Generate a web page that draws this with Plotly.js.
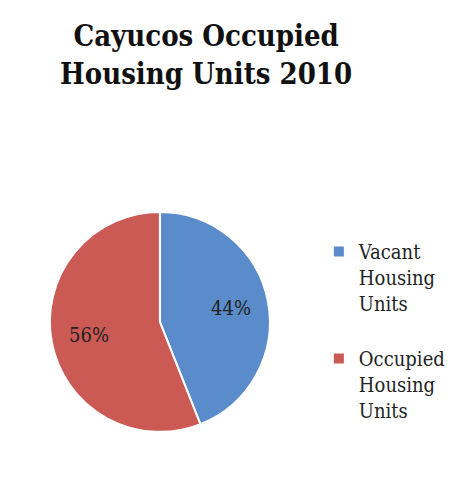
<!DOCTYPE html>
<html>
<head>
<meta charset="utf-8">
<script src="https://cdn.plot.ly/plotly-3.0.1.min.js"></script>
<style>html,body{margin:0;padding:0;background:#fff;}#chart{width:451px;height:501px;}</style>
</head>
<body>
<div id="chart"></div>
<script>
const categories = ["Vacant Housing Units", "Occupied Housing Units"];
const values = [44, 56];
const colors = ["#5a8bca", "#cb5954"];
const chartTitle = "Cayucos Occupied<br>Housing Units 2010";

const W = 451, H = 501;
const dom = {x: [0.106, 0.603], y: [0.138, 0.577]};

// legend text: wrap words, add spacer line after every item except last
const legendLabels = categories.map((c, i) =>
  c.split(" ").join("<br>") + (i < categories.length - 1 ? "<br> " : ""));

const data = [{
  type: "pie",
  labels: legendLabels,
  values: values,
  sort: false,
  direction: "clockwise",
  rotation: 0,
  marker: {colors: colors, line: {color: "#ffffff", width: 2}},
  textinfo: "none",
  domain: dom,
  hoverinfo: "label+percent"
}];

// percent labels positioned at each slice's mid-angle
const total = values.reduce((a, b) => a + b, 0);
const cx = (dom.x[0] + dom.x[1]) / 2 * W;
const cy = (1 - (dom.y[0] + dom.y[1]) / 2) * H;
const R = 110;
let acc = 0;
const annotations = values.map(v => {
  const mid = (acc + v / 2) / total * 2 * Math.PI;
  acc += v;
  const r = R * 0.66;
  const px = cx + r * Math.sin(mid);
  const py = cy - r * Math.cos(mid);
  return {
    x: px / W, y: 1 - py / H, xref: "paper", yref: "paper",
    text: Math.round(v / total * 100) + "%", showarrow: false,
    xanchor: "center", yanchor: "middle",
    font: {family: "DejaVu Serif Condensed, DejaVu Serif, serif", size: 20, color: "#222222"}
  };
});

const layout = {
  width: W, height: H,
  margin: {l: 0, r: 0, t: 0, b: 0},
  paper_bgcolor: "#ffffff",
  title: {
    text: chartTitle,
    x: 0.457, xanchor: "center",
    y: 1 - 46/501, yanchor: "top", yref: "container",
    font: {family: "DejaVu Serif Condensed, DejaVu Serif, serif", size: 29, color: "#111111", weight: "bold"}
  },
  annotations: annotations,
  showlegend: true,
  legend: {
    x: 0.707, xanchor: "left",
    y: 0.537, yanchor: "top",
    valign: "top",
    font: {family: "DejaVu Serif Condensed, DejaVu Serif, serif", size: 20, color: "#222222"},
    bgcolor: "rgba(0,0,0,0)"
  }
};

Plotly.newPlot("chart", data, layout, {displayModeBar: false, staticPlot: true});
</script>
</body>
</html>
